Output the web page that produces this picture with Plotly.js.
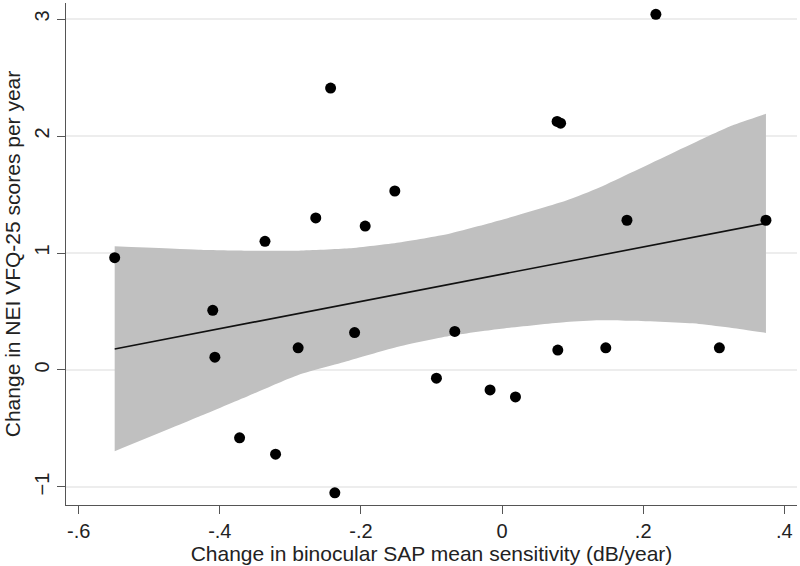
<!DOCTYPE html>
<html>
<head>
<meta charset="utf-8">
<script src="https://cdn.plot.ly/plotly-3.0.1.min.js"></script>
<style>
  html, body { margin: 0; padding: 0; background: #fff; }
  #chart { width: 800px; height: 566px; }
</style>
</head>
<body>
<div id="chart"></div>
<script>
// observations
var sapChange = [-0.549, -0.410, -0.407, -0.372, -0.336, -0.321, -0.289, -0.264, -0.243, -0.237,
                 -0.209, -0.194, -0.152, -0.093, -0.067, -0.017, 0.019, 0.078, 0.083, 0.079,
                 0.147, 0.177, 0.218, 0.308, 0.374];
var vfqChange = [0.96, 0.51, 0.11, -0.58, 1.10, -0.72, 0.19, 1.30, 2.41, -1.05,
                 0.32, 1.23, 1.53, -0.07, 0.33, -0.17, -0.23, 2.125, 2.11, 0.17,
                 0.19, 1.28, 3.04, 0.19, 1.28];

// fitted line
var fitX = [-0.549, 0.374];
var fitY = [0.18, 1.254];

// confidence band
var bandX     = [-0.549, -0.430, -0.359, -0.288, -0.217, -0.146, -0.075, -0.004, 0.091, 0.138, 0.184, 0.279, 0.326, 0.374];
var bandUpper = [1.057, 1.028, 1.02, 1.02, 1.04, 1.09, 1.165, 1.277, 1.448, 1.56, 1.69, 1.962, 2.09, 2.19];
var bandLower = [-0.694, -0.40, -0.22, -0.04, 0.08, 0.20, 0.29, 0.35, 0.41, 0.425, 0.42, 0.394, 0.36, 0.317];

var xTicks = [-0.6, -0.4, -0.2, 0, 0.2, 0.4];
var xTickText = ['-.6', '-.4', '-.2', '0', '.2', '.4'];
var yTicks = [-1, 0, 1, 2, 3];

var data = [
  {
    x: bandX, y: bandLower, type: 'scatter', mode: 'lines',
    line: {width: 0, color: '#c0c0c0', shape: 'spline', smoothing: 0.6}, hoverinfo: 'skip', showlegend: false
  },
  {
    x: bandX, y: bandUpper, type: 'scatter', mode: 'lines',
    fill: 'tonexty', fillcolor: '#c0c0c0',
    line: {width: 0, color: '#c0c0c0', shape: 'spline', smoothing: 0.6}, hoverinfo: 'skip', showlegend: false
  },
  {
    x: fitX, y: fitY, type: 'scatter', mode: 'lines',
    line: {color: '#111', width: 1.6}, showlegend: false
  },
  {
    x: sapChange, y: vfqChange, type: 'scatter', mode: 'markers',
    marker: {color: '#000', size: 11}, showlegend: false
  }
];

var layout = {
  width: 800,
  height: 566,
  margin: {l: 66, r: 3, t: 3, b: 61},
  paper_bgcolor: '#fff',
  plot_bgcolor: '#fff',
  font: {family: 'Liberation Sans, Arial, sans-serif', size: 20, color: '#222'},
  showlegend: false,
  xaxis: {
    range: [-0.618, 0.418],
    tickvals: xTicks,
    ticktext: xTickText,
    ticks: 'outside',
    ticklen: 8,
    tickcolor: '#555',
    tickfont: {size: 20},
    showgrid: false,
    zeroline: false,
    showline: true,
    linecolor: '#555',
    linewidth: 1.2,
    title: {text: 'Change in binocular SAP mean sensitivity (dB/year)', font: {size: 21}, standoff: 2},
    automargin: false
  },
  yaxis: {
    range: [-1.154, 3.137],
    tickvals: yTicks,
    tickangle: -90,
    ticks: 'outside',
    ticklen: 8,
    tickcolor: '#555',
    tickfont: {size: 20},
    showgrid: true,
    gridcolor: '#ededed',
    gridwidth: 1.2,
    zeroline: false,
    showline: true,
    linecolor: '#555',
    linewidth: 1.2,
    title: {text: 'Change in NEI VFQ-25 scores per year', font: {size: 21}, standoff: 4},
    automargin: false
  }
};

Plotly.newPlot('chart', data, layout, {staticPlot: true});
</script>
</body>
</html>
